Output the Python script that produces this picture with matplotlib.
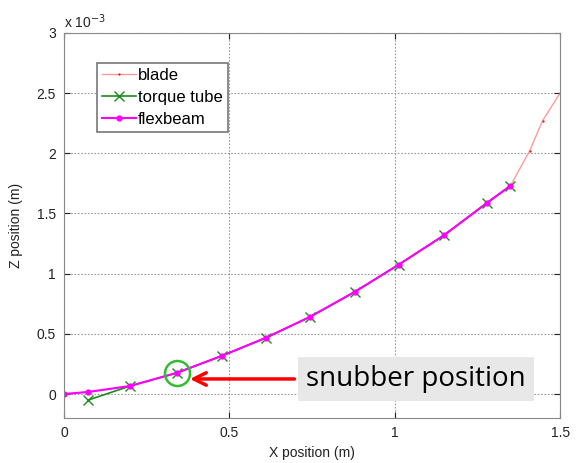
import numpy as np
import matplotlib
import matplotlib.pyplot as plt

matplotlib.use("Agg")

# values (z in units of 1e-3 m)
tube_x = [0.073, 0.20, 0.34, 0.477, 0.61, 0.743, 0.88, 1.012, 1.148, 1.28, 1.35]
tube_z = [-0.05, 0.067, 0.175, 0.317, 0.467, 0.64, 0.85, 1.075, 1.317, 1.59, 1.73]

flex_x = [0.0, 0.073, 0.20, 0.34, 0.477, 0.61, 0.743, 0.88, 1.012, 1.148, 1.28, 1.35]
flex_z = [0.0, 0.017, 0.067, 0.175, 0.317, 0.467, 0.64, 0.85, 1.075, 1.317, 1.59, 1.73]

blade_x = [0.0, 0.073, 0.20, 0.34, 0.477, 0.61, 0.743, 0.88, 1.012, 1.148, 1.28, 1.35,
           1.408, 1.447, 1.5]
blade_z = [0.0, 0.017, 0.067, 0.175, 0.317, 0.467, 0.64, 0.85, 1.075, 1.317, 1.59, 1.73,
           2.02, 2.27, 2.5]

snubber_x, snubber_z = 0.34, 0.175
label_x, label_z = 0.705, 0.125

plt.rcParams["font.family"] = ["Liberation Sans", "DejaVu Sans"]

fig = plt.figure(figsize=(5.78, 4.63), dpi=100)
ax = fig.add_axes([0.111, 0.097, 0.858, 0.832])

s = 1e-3
ax.plot(np.array(blade_x), np.array(blade_z) * s, color="#ff9a9a", lw=1,
        marker=".", markersize=1.2, markerfacecolor="red", markeredgecolor="red",
        label="blade")
ax.plot(np.array(tube_x), np.array(tube_z) * s, color="#1a8c1a", lw=1.2,
        marker="x", markersize=7, label="torque tube")
ax.plot(np.array(flex_x), np.array(flex_z) * s, color="magenta", lw=1.5,
        marker=".", markersize=7, label="flexbeam")

ax.set_xlim(0, 1.5)
ax.set_ylim(-0.0002, 0.003)
ax.set_xticks([0, 0.5, 1, 1.5])
ax.set_xticklabels(["0", "0.5", "1", "1.5"])
yt = [0, 0.5, 1, 1.5, 2, 2.5, 3]
ax.set_yticks([v * s for v in yt])
ax.set_yticklabels(["0", "0.5", "1", "1.5", "2", "2.5", "3"])
ax.tick_params(direction="in", length=4, labelsize=10, colors="#222222",
               top=True, right=True, pad=6)
ax.grid(True, linestyle=(0, (1.5, 1.5)), color="#999999", lw=0.8)
for sp in ax.spines.values():
    sp.set_color("#888888")

ax.set_xlabel("X position (m)", fontsize=10, color="#222222", labelpad=4)
ax.set_ylabel("Z position (m)", fontsize=10, color="#222222", labelpad=10)
ax.text(0.0, 1.005, r"x 10$^{-3}$", transform=ax.transAxes, fontsize=10,
        color="#222222", ha="left", va="bottom")

leg = ax.legend(loc="upper left", bbox_to_anchor=(0.067, 0.922), fontsize=12,
                fancybox=False, framealpha=1, edgecolor="#777777",
                handlelength=2.0, handletextpad=0.15, borderpad=0.3,
                labelspacing=0.42, borderaxespad=0)
leg.get_frame().set_linewidth(1.2)

# snubber annotation
ax.plot([snubber_x], [snubber_z * s], marker="o", markersize=18,
        markerfacecolor="none", markeredgecolor="#33bb33", markeredgewidth=1.8)
ax.annotate("", xy=(0.372, label_z * s), xytext=(label_x, label_z * s),
            arrowprops=dict(arrowstyle="->,head_length=0.9,head_width=0.45",
                            color="red", lw=2.5))
ax.text(label_x + 0.028, label_z * s, "snubber position", fontsize=20,
        family="Open Sans", ha="left", va="center", color="black",
        bbox=dict(boxstyle="square,pad=0.3", facecolor="#e8e8e8",
                  edgecolor="none"))

fig.savefig("out.png", dpi=100)
